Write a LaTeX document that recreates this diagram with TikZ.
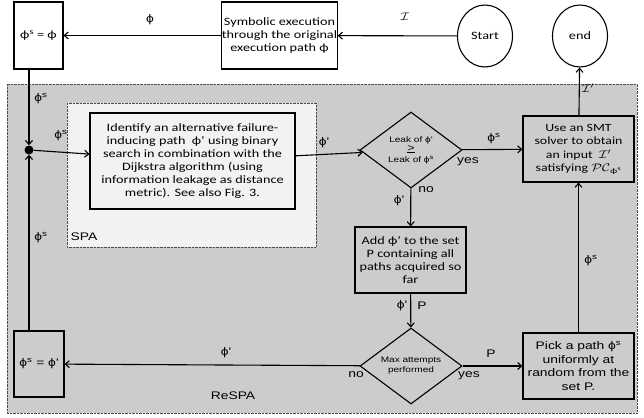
\documentclass[tikz,border=0pt]{standalone}
\usepackage{graphicx}
\usepackage{fontspec}
\setmainfont{Carlito}[FakeStretch=1.26]
\newfontfamily\arial{Liberation Sans}[FakeStretch=1.26]
\usetikzlibrary{arrows.meta,shapes.geometric}

\newcommand{\ph}{ϕ}
\newcommand{\phs}{ϕ\textsuperscript{s}}
\newcommand{\wide}[1]{\scalebox{1.26}[1]{#1}}

\begin{document}
\begin{tikzpicture}[x=1pt,y=-1pt,
    box/.style={draw,line width=1.1pt,align=center,inner sep=0pt,
      font=\fontsize{11.3}{13}\selectfont},
    dia/.style={draw,line width=1.1pt,diamond,aspect=1.34,inner sep=0pt,
      minimum width=102pt,minimum height=76pt,align=center,
      font=\arial\fontsize{8}{10}\selectfont},
    arr/.style={-{Straight Barb[length=4pt,width=7pt]},line width=1.1pt},
    lbl/.style={font=\arial\fontsize{11}{12}\selectfont,inner sep=0pt}]

    \useasboundingbox (0,0) rectangle (644,417);

    % shaded areas
    \draw[densely dotted,draw=black!70,fill={rgb,255:red,204;green,204;blue,204}] (7,84) rectangle (637,413);
    \draw[densely dotted,draw=black!70,fill={rgb,255:red,242;green,242;blue,242}] (67,103) rectangle (316,247);

    \node[box,minimum width=49pt,minimum height=67pt] (phiA) at (38.5,35.5) {\phs{} = \ph};
    \node[box,minimum width=103pt,minimum height=67pt] (symb) at (279.5,35.5)
      {Symbolic execution\\through the original\\execution path \ph};
    \node[box,ellipse,minimum width=55pt,minimum height=62pt] (start) at (485,36) {Start};
    \node[box,ellipse,minimum width=55pt,minimum height=62pt] (endc) at (580,36) {end};

    \node[box,minimum width=205pt,minimum height=96pt] (ident) at (192.5,161)
      {Identify an alternative failure-\\inducing path \ \ph'\ using binary\\search in combination with the\\Dijkstra algorithm (using\\information leakage as distance\\metric). See also Fig. 3.};
    \node[dia] (leak) at (411,150) {Leak of \ph'\\[-1pt]{\fontsize{10}{10}\selectfont\underline{>}}\\[1pt]Leak of \phs};
    \node[box,minimum width=111pt,minimum height=66pt,font=\fontsize{11}{13.3}\selectfont] (smt) at (578.5,149)
      {Use an SMT\\solver to obtain\\an input \ \smash{\wide{$\mathcal{I}'$}}\\satisfying \smash{\wide{$\mathcal{PC}_{\mbox{\scriptsize\ph}^{\mathrm{s}}}$}}};
    \node[box,minimum width=111pt,minimum height=66pt] (add) at (410.5,260)
      {Add \ph' to the set\\P containing all\\paths acquired so\\far};
    \node[dia] (maxd) at (411,366) {Max attempts\\performed};
    \node[box,minimum width=111pt,minimum height=66pt,font=\arial\fontsize{11}{13.4}\selectfont] (pick) at (578.5,366)
      {Pick a path \phs\\uniformly at\\random from the\\set P.};
    \node[box,minimum width=50pt,minimum height=66pt,font=\arial\fontsize{11}{12}\selectfont] (phiB) at (39,364) {\phs{} = \ph'};

    \node[circle,fill,inner sep=0pt,minimum size=9pt] (dot) at (29,150) {};

    % connectors
    \draw[arr] (start) -- (symb);
    \draw[arr] (symb) -- (phiA);
    \draw[arr] (phiA.south -| dot) -- (dot);
    \draw[arr] (dot) -- (ident);
    \draw[arr] (phiB.north -| dot) -- (dot);
    \draw[arr] (ident) -- (leak);
    \draw[arr] (leak) -- (smt);
    \draw[arr] (smt) -- (endc);
    \draw[arr] (leak) -- (add);
    \draw[arr] (add) -- (maxd);
    \draw[arr] (maxd) -- (pick);
    \draw[arr] (pick) -- (smt);
    \draw[arr] (maxd) -- (phiB);

    % connector labels
    \node[lbl] (lI) at (405,17) {\wide{$\mathcal{I}$}};
    \node[lbl] (lphi) at (150,20) {\ph};
    \node[lbl] (lsA) at (41,99) {\phs};
    \node[lbl] (lsB) at (61,136) {\phs};
    \node[lbl] (lsC) at (41,238) {\phs};
    \node[lbl] (lpA) at (324,143) {\ph'};
    \node[lbl] (lsD) at (494,139) {\phs};
    \node[lbl] (lIp) at (588,88) {\wide{$\mathcal{I}'$}};
    \node[lbl] (lpB) at (399,201) {\ph'};
    \node[lbl] (lpC) at (402,306) {\ph'};
    \node[lbl] (lP) at (422,306) {P};
    \node[lbl] (lPb) at (491,354) {P};
    \node[lbl] (lsE) at (591,261) {\phs};
    \node[lbl] (lpD) at (226,353) {\ph'};

    % branch and area labels
    \node[lbl] (yesA) at (468,162) {yes};
    \node[lbl] (noA) at (426,190) {no};
    \node[lbl] (yesB) at (469,376) {yes};
    \node[lbl] (noB) at (356,375) {no};
    \node[lbl] (spa) at (84,237) {SPA};
    \node[lbl] (respa) at (233,396) {ReSPA};
\end{tikzpicture}
\end{document}
